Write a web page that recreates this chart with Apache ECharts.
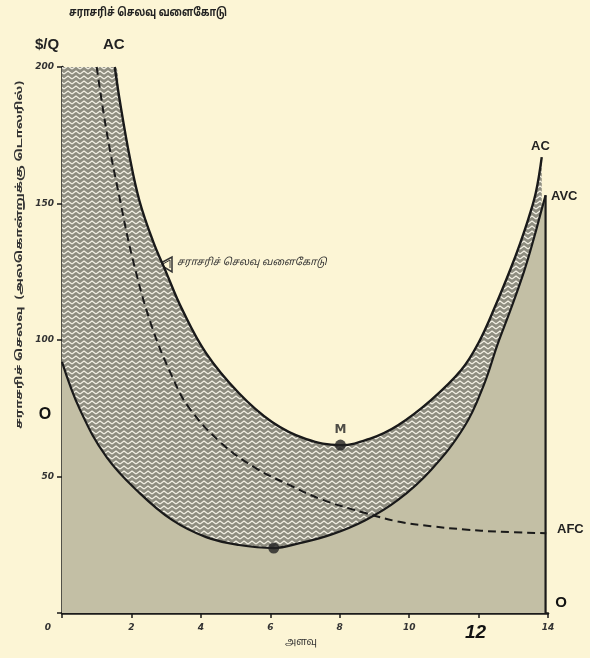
<!DOCTYPE html>
<html><head><meta charset="utf-8">
<script src="https://cdn.jsdelivr.net/npm/echarts@6/dist/echarts.min.js"></script>
<style>html,body{margin:0;padding:0;background:#fcf5d5;}#c{width:590px;height:658px;}</style>
</head><body><div id="c"></div>
<script>
// Average cost (AC) curve
const acX = [1.52, 1.66, 1.95, 2.23, 2.61, 3.01, 3.45, 4.15, 5.10, 6.05, 7.02, 8.02, 8.9, 9.68, 10.63, 11.5, 12.0, 12.5, 12.92, 13.2, 13.45, 13.65, 13.82];
const acY = [200, 188, 167, 151, 136.6, 124.5, 111.5, 95.2, 80.5, 70, 63.8, 61.5, 64, 68.8, 78, 89, 99, 113, 126, 135.5, 145, 154, 167];
// Average variable cost (AVC) curve
const avcX = [0, 0.52, 1.29, 2.23, 3.18, 4.15, 5.10, 6.10, 6.82, 7.77, 8.74, 9.68, 10.63, 11.6, 12.15, 12.55, 12.92, 13.32, 13.61, 13.8, 13.93];
const avcY = [92, 74.4, 57, 44, 34, 27.8, 24.9, 23.8, 25.5, 28.8, 34, 41.4, 52.4, 68.5, 83.5, 98.5, 111, 125.5, 138, 147, 153];
// Average fixed cost (AFC) curve
const afcX = [1.0, 1.29, 1.66, 2.03, 2.56, 3.18, 3.67, 4.61, 5.59, 6.53, 7.48, 8.74, 9.68, 10.63, 11.6, 12.55, 13.95];
const afcY = [200, 176, 152, 130, 106, 86.4, 75, 62, 53, 47, 41.6, 36.6, 33.5, 31.8, 30.6, 29.8, 29.2];
// Minimum points: M on AC, minimum on AVC
const minX = [8.02, 6.1];
const minY = [61.5, 23.8];
const minNames = ['M', ''];
// Axis settings
const xMin = 0, xMax = 14, xStep = 2;
const yMin = 0, yMax = 200, yStep = 50;
const topCap = 200;

const pair = (xs, ys) => xs.map((x, i) => [x, ys[i]]);
const acData = pair(acX, acY);
const avcData = pair(avcX, avcY);
const afcData = pair(afcX, afcY);
const hatchData = [[xMin, topCap]].concat(acData);
const lastAvc = avcData[avcData.length - 1];
const edgeData = [lastAvc, [lastAvc[0], yMin]];

// zigzag hatch pattern
function makeHatch() {
  const c = document.createElement('canvas');
  c.width = 8; c.height = 5;
  const g = c.getContext('2d');
  g.fillStyle = '#8e8d80';
  g.fillRect(0, 0, 8, 5);
  g.strokeStyle = '#f4f1e4';
  g.lineWidth = 1.3;
  g.beginPath();
  g.moveTo(0, 4); g.lineTo(4, 1); g.lineTo(8, 4);
  g.stroke();
  return c;
}

const chart = echarts.init(document.getElementById('c'), null, {renderer: 'canvas'});
const tamil = "'Noto Sans Tamil','Lohit Tamil','Latha','Noto Sans',sans-serif";
const smoothOpts = {smooth: 0.4};

chart.setOption({
  backgroundColor: '#fcf5d5',
  animation: false,
  grid: {left: 62, right: 42, top: 67, bottom: 45},
  xAxis: {
    type: 'value', min: xMin, max: xMax, interval: xStep,
    axisLine: {lineStyle: {color: '#1a1a1a', width: 2.5}},
    axisTick: {length: 5, lineStyle: {color: '#1a1a1a', width: 1.5}},
    splitLine: {show: false},
    axisLabel: {
      margin: 10, color: '#333',
      fontFamily: 'DejaVu Sans', fontStyle: 'italic', fontWeight: 'bold', fontSize: 9,
      formatter: v => v === 0 ? '{z|0}' : (v === 12 ? '{b|12}' : String(v)),
      rich: {
        z: {fontStyle: 'italic', fontWeight: 'bold', fontSize: 9, color: '#333', padding: [0, 28, 0, 0]},
        b: {fontFamily: 'Liberation Sans', fontStyle: 'italic', fontWeight: 'bold', fontSize: 19, color: '#111', padding: [0, 6, 0, 0]}
      }
    }
  },
  yAxis: {
    type: 'value', min: yMin, max: yMax, interval: yStep,
    axisLine: {show: true, lineStyle: {color: '#1a1a1a', width: 2.5}},
    axisTick: {show: true, length: 5, lineStyle: {color: '#1a1a1a', width: 1.5}},
    splitLine: {show: false},
    axisLabel: {
      margin: 8, color: '#333',
      fontFamily: 'DejaVu Sans', fontStyle: 'italic', fontWeight: 'bold', fontSize: 9,
      formatter: v => v === 0 ? '' : String(v)
    }
  },
  series: [
    {
      name: 'hatch', type: 'line', data: hatchData, ...smoothOpts,
      symbol: 'none', lineStyle: {width: 0},
      areaStyle: {color: {image: makeHatch(), repeat: 'repeat'}, opacity: 1},
      z: 1
    },
    {
      name: 'AVC', type: 'line', data: avcData, ...smoothOpts,
      symbol: 'none', lineStyle: {color: '#1a1a1a', width: 2.2},
      areaStyle: {color: '#c3bfa5', opacity: 1},
      z: 2
    },
    {
      name: 'edge', type: 'line', data: edgeData,
      symbol: 'none', lineStyle: {color: '#1a1a1a', width: 2.2}, z: 3
    },
    {
      name: 'AC', type: 'line', data: acData, ...smoothOpts,
      symbol: 'none', lineStyle: {color: '#1a1a1a', width: 2.4}, z: 3
    },
    {
      name: 'AFC', type: 'line', data: afcData, ...smoothOpts,
      symbol: 'none', lineStyle: {color: '#1a1a1a', width: 2, type: [8, 5]}, z: 4
    },
    {
      name: 'min', type: 'scatter',
      data: minX.map((x, i) => ({value: [x, minY[i]], name: minNames[i]})),
      symbolSize: 11, itemStyle: {color: '#222'},
      label: {show: true, position: 'top', distance: 4, formatter: p => p.name,
        color: '#222', fontFamily: 'DejaVu Sans', fontSize: 12, fontWeight: 'bold'},
      z: 5
    }
  ],
  graphic: [
    {type: 'text', x: 148, y: 14, scaleX: 0.8,
      style: {text: 'சராசரிச் செலவு வளைகோடு', font: 'bold 12px ' + tamil, fill: '#222', align: 'center', verticalAlign: 'middle'}},
    {type: 'text', left: 35, top: 37, style: {text: '$/Q', font: 'bold 15px Liberation Sans', fill: '#222'}},
    {type: 'text', left: 103, top: 37, style: {text: 'AC', font: 'bold 15px Liberation Sans', fill: '#222'}},
    {type: 'text', left: 531, top: 140, style: {text: 'AC', font: 'bold 13px Liberation Sans', fill: '#222'}},
    {type: 'text', left: 551, top: 190, style: {text: 'AVC', font: 'bold 13px Liberation Sans', fill: '#222'}},
    {type: 'text', left: 557, top: 523, style: {text: 'AFC', font: 'bold 13px Liberation Sans', fill: '#222'}},
    {type: 'text', x: 45, y: 415, style: {text: 'O', font: 'bold 16px Liberation Sans', fill: '#111', align: 'center', verticalAlign: 'middle'}},
    {type: 'text', x: 561, y: 603, style: {text: 'O', font: 'bold 15px Liberation Sans', fill: '#111', align: 'center', verticalAlign: 'middle'}},
    {type: 'text', left: 285, top: 638, style: {text: 'அளவு', font: '10px ' + tamil, fill: '#333'}},
    {type: 'text', x: 20, y: 255, rotation: Math.PI / 2, scaleX: 1.5,
      style: {text: 'சராசரிச் செலவு  (அலகொன்றுக்கு டொலரில்)', font: 'bold 9px ' + tamil, fill: '#333', align: 'center', verticalAlign: 'middle'}},
    {type: 'polygon', shape: {points: [[159, 264], [172, 257], [172, 272]]}, style: {fill: 'none', stroke: '#333', lineWidth: 1.5}},
    {type: 'polyline', shape: {points: [[163, 264], [170, 260], [170, 268]]}, style: {fill: 'none', stroke: '#333', lineWidth: 1}},
    {type: 'text', left: 177, top: 258, style: {text: 'சராசரிச் செலவு வளைகோடு', font: 'italic 10px ' + tamil, fill: '#333'}}
  ]
});
</script>
</body></html>
